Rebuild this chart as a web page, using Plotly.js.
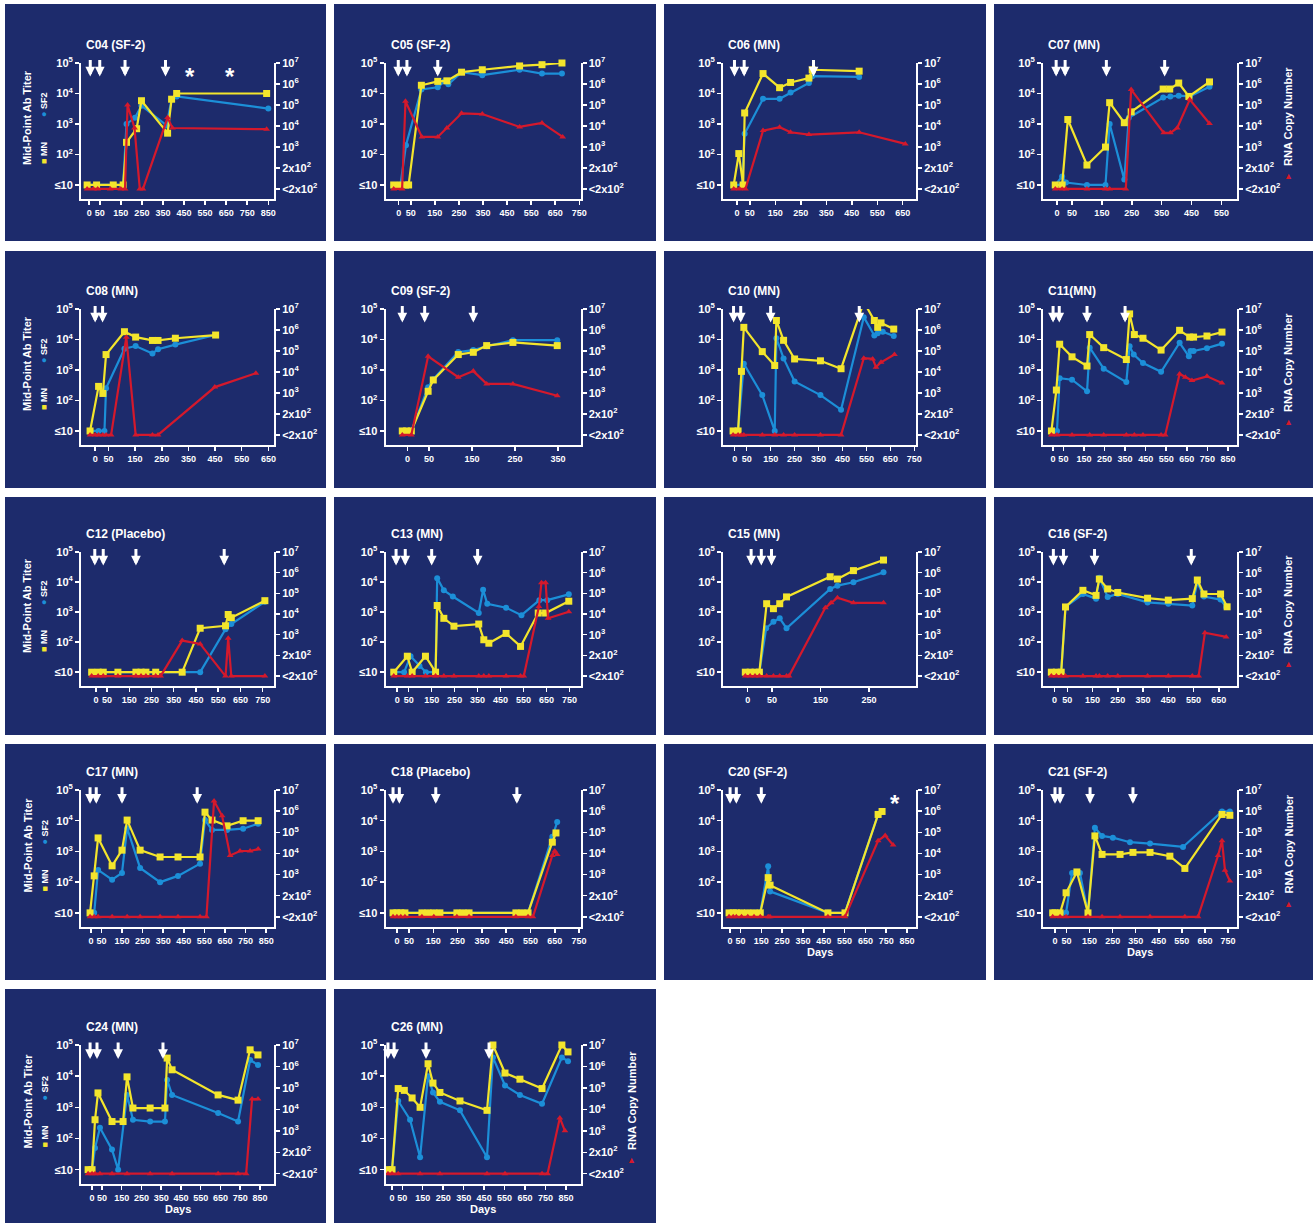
<!DOCTYPE html>
<html><head><meta charset="utf-8">
<script src="https://cdn.plot.ly/plotly-3.0.1.min.js"></script>
<style>html,body{margin:0;padding:0;background:#fff}#chart{width:1313px;height:1223px}</style>
</head><body><div id="chart"></div>
<script>
// ---------------- DATA (days, titer) / (days, RNA copies on the RNA axis) ----------------
// Titers at "≤10" are stored as 10; RNA "<2x10²" stored as 10 (bottom code of RNA axis), "2x10²" as 100.
const C04_MN=[[-10,10],[35,10],[114,10],[161,10],[177,250],[225,700],[248,5800],[372,500],[391,6500],[415,10000],[842,10000]];
const C04_SF2=[[-10,10],[35,10],[114,10],[161,10],[177,1000],[217,1600],[248,4000],[367,900],[391,6500],[415,8000],[850,3200]];
const C04_RNA=[[-10,10],[20,10],[40,10],[100,10],[150,10],[170,10],[182,100000],[215,8000],[240,10],[255,10],[372,25000],[395,8000],[842,7000]];
const C04_VACC=[5,50,170,362], C04_STAR=[478,668];

const C05_MN=[[-21,10],[7,10],[28,10],[41,10],[94,18600],[162,25000],[200,26000],[261,50000],[347,60000],[502,80000],[595,88000],[678,100000]];
const C05_SF2=[[-21,10],[7,10],[30,200],[94,13500],[162,16000],[190,25000],[206,20000],[261,50000],[347,40000],[502,60000],[595,45000],[678,45000]];
const C05_RNA=[[-21,10],[14,10],[28,150000],[96,3000],[162,3000],[200,8000],[261,40000],[347,37000],[502,9000],[595,14000],[681,3000]];
const C05_VACC=[-2,34,162];

const C06_MN=[[-13,10],[7,107],[24,10],[30,2300],[102,45000],[167,15500],[210,23000],[282,32000],[295,60000],[479,54000]];
const C06_SF2=[[-13,10],[20,10],[30,480],[102,6700],[167,6700],[210,10700],[282,22000],[295,37000],[479,35000]];
const C06_RNA=[[-13,10],[10,10],[33,10],[102,6000],[167,8700],[210,5000],[282,3900],[479,5000],[660,1400]];
const C06_VACC=[-10,28,300];

const C07_MN=[[-6,10],[17,10],[36,1400],[100,45],[162,175],[176,5000],[225,1100],[248,2500],[355,14000],[377,14000],[407,22000],[441,8000],[510,24000]];
const C07_SF2=[[-6,10],[17,19],[30,12],[100,10],[162,10],[176,1000],[225,15],[240,1600],[355,7400],[379,8000],[407,8500],[444,8000],[510,16500]];
const C07_RNA=[[-6,10],[17,10],[30,10],[100,10],[162,10],[176,10],[230,10],[248,540000],[357,4700],[379,4700],[402,8000],[444,180000],[510,13000]];
const C07_VACC=[-3,27,165,360];

const C08_MN=[[-19,10],[13,290],[29,170],[41,3200],[110,18000],[152,12000],[215,9300],[236,9300],[301,11000],[452,14000]];
const C08_SF2=[[-19,10],[13,10],[35,10],[41,250],[110,5000],[152,6100],[215,3500],[236,4800],[301,6800],[452,14000]];
const C08_RNA=[[-19,10],[0,10],[13,10],[29,10],[41,10],[60,10],[117,450000],[152,10],[215,10],[236,10],[449,1900],[603,8700]];
const C08_VACC=[0,28];

const C09_MN=[[-12,10],[-2,10],[9,10],[48,200],[60,470],[118,3200],[153,3800],[184,6300],[245,8000],[348,6300]];
const C09_SF2=[[-12,10],[-2,10],[9,10],[48,270],[60,500],[118,3900],[153,4500],[184,6000],[245,9500],[348,9500]];
const C09_RNA=[[-12,10],[9,10],[48,56000],[118,5600],[153,11000],[184,2700],[245,2700],[348,740]];
const C09_VACC=[-12,40,153];

const C10_MN=[[-7,10],[14,10],[28,900],[38,25000],[115,4000],[167,1400],[174,42000],[204,9400],[250,2300],[358,2000],[444,1100],[539,170000],[583,42000],[597,25000],[611,35000],[664,22000]];
const C10_SF2=[[-7,10],[14,10],[38,1600],[115,150],[167,10],[174,11000],[204,2400],[250,420],[358,150],[444,50],[539,54000],[583,13500],[597,16000],[618,18000],[664,13000]];
const C10_RNA=[[-7,10],[14,10],[28,10],[38,10],[115,10],[167,10],[204,10],[250,10],[358,10],[444,10],[539,45000],[576,42000],[590,17000],[611,29000],[667,68000]];
const C10_VACC=[-5,25,150,520];

const C11_MN=[[-8,10],[16,220],[32,7000],[92,2700],[165,1350],[178,14500],[246,5400],[356,2200],[372,69000],[395,14500],[437,11000],[525,4500],[615,20000],[664,12000],[683,12000],[748,13000],[821,17500]];
const C11_SF2=[[-8,10],[19,10],[32,540],[92,480],[165,200],[178,5400],[246,1100],[356,400],[372,6000],[392,3200],[437,1700],[525,870],[615,7800],[660,2800],[668,4200],[683,4200],[748,5200],[821,7300]];
const C11_RNA=[[-8,10],[19,10],[92,10],[178,10],[246,10],[356,10],[395,10],[437,10],[525,10],[545,10],[615,8000],[643,5600],[675,3900],[748,6200],[821,3000]];
const C11_VACC=[0,30,165,350];

const C12_MN=[[-19,10],[10,10],[33,10],[99,10],[180,10],[203,10],[225,10],[269,10],[388,10],[469,290],[583,350],[595,830],[609,650],[760,2400]];
const C12_SF2=[[-19,10],[10,10],[33,10],[99,10],[180,10],[203,10],[225,10],[269,10],[388,10],[469,10],[583,270],[609,400],[760,2200]];
const C12_RNA=[[-19,10],[10,10],[33,10],[99,10],[180,10],[203,10],[225,10],[269,10],[291,10],[388,520],[469,360],[583,10],[595,680],[609,10],[760,10]];
const C12_VACC=[-5,33,180,577];

const C13_MN=[[-15,10],[44,34],[65,10],[123,34],[167,10],[174,1660],[203,620],[247,340],[355,400],[377,120],[399,92],[474,195],[537,72],[614,930],[646,930],[747,2300]];
const C13_SF2=[[-15,10],[30,10],[58,34],[97,16],[125,10],[167,10],[174,13500],[203,5300],[242,3300],[355,930],[374,5500],[392,1900],[474,1400],[541,790],[619,2500],[653,2500],[747,3900]];
const C13_RNA=[[-15,10],[44,10],[65,10],[123,10],[167,10],[203,10],[247,10],[355,10],[377,10],[399,10],[474,10],[537,10],[551,10],[617,23000],[628,330000],[646,330000],[657,6300],[747,13000]];
const C13_VACC=[-5,35,150,350];

const C15_MN=[[-5,10],[5,10],[15,10],[24,10],[39,1900],[53,1300],[66,1900],[80,3200],[170,15000],[185,12600],[218,24000],[280,54000]];
const C15_SF2=[[-5,10],[5,10],[15,10],[24,10],[38,290],[53,480],[66,620],[80,290],[170,5900],[185,7600],[218,9800],[280,21000]];
const C15_RNA=[[-5,10],[5,10],[15,10],[24,10],[39,10],[53,10],[66,10],[80,10],[85,10],[160,20000],[172,35000],[185,62000],[218,35000],[280,35000]];
const C15_VACC=[7,28,49];

const C16_MN=[[-13,10],[7,10],[26,10],[43,1480],[112,5300],[164,3600],[177,12600],[210,5900],[250,4500],[368,2900],[450,2500],[545,2800],[565,11700],[591,4000],[657,4000],[683,1500]];
const C16_SF2=[[-13,10],[7,10],[26,10],[43,1480],[112,4000],[164,2800],[177,14000],[210,3200],[250,4000],[368,2100],[450,1900],[545,1650],[565,9800],[591,3300],[657,2600],[679,1480]];
const C16_RNA=[[-13,10],[7,10],[26,10],[43,10],[112,10],[164,10],[177,10],[210,10],[250,10],[368,10],[450,10],[545,10],[570,10],[595,1250],[679,780]];
const C16_VACC=[-5,35,158,541];

const C17_MN=[[-5,10],[15,160],[34,2750],[102,340],[150,1100],[175,10500],[238,1100],[335,660],[422,660],[529,660],[553,19000],[587,10500],[660,6800],[738,10000],[811,10000]];
const C17_SF2=[[-5,10],[15,10],[34,250],[102,120],[150,200],[175,5700],[238,290],[335,100],[422,160],[529,400],[553,10500],[587,5000],[660,5000],[738,5500],[811,8000]];
const C17_RNA=[[-5,10],[15,10],[34,10],[102,10],[175,10],[238,10],[335,10],[422,10],[529,10],[560,10],[597,3000000],[636,600000],[675,8000],[723,13000],[772,13000],[811,16000]];
const C17_VACC=[-5,25,150,515];

const C18_MN=[[-16,10],[0,10],[16,10],[33,10],[103,10],[128,10],[152,10],[177,10],[247,10],[272,10],[297,10],[490,10],[515,10],[540,10],[640,2000],[655,4000]];
const C18_SF2=[[-16,10],[0,10],[16,10],[33,10],[103,10],[128,10],[152,10],[177,10],[247,10],[272,10],[297,10],[490,10],[515,10],[540,10],[640,3000],[660,9000]];
const C18_RNA=[[-16,10],[0,10],[16,10],[33,10],[103,10],[152,10],[247,10],[297,10],[490,10],[540,10],[560,10],[640,8000],[650,13000],[660,9000]];
const C18_VACC=[-16,10,160,494];

const C20_MN=[[-5,10],[15,10],[30,10],[55,10],[85,10],[115,10],[145,10],[183,140],[192,80],[470,10],[552,10],[711,16000],[730,20000]];
const C20_SF2=[[-5,10],[15,10],[30,10],[55,10],[85,10],[115,10],[145,10],[183,330],[192,50],[470,10],[552,10],[711,16000],[730,20000]];
const C20_RNA=[[-5,10],[15,10],[30,10],[55,10],[85,10],[115,10],[145,10],[183,10],[192,10],[470,10],[552,10],[711,40000],[745,70000],[783,25000]];
const C20_VACC=[0,30,150], C20_STAR=[793];

const C21_MN=[[-10,10],[0,10],[22,10],[48,45],[95,215],[143,10],[173,3200],[204,800],[282,800],[338,930],[412,930],[498,700],[563,280],[724,16000],[758,15000]];
const C21_SF2=[[-10,10],[0,10],[22,10],[48,10],[74,200],[108,200],[143,10],[173,5900],[204,3200],[251,2800],[325,2000],[412,1800],[555,1400],[724,20000],[758,20000]];
const C21_RNA=[[-10,10],[22,10],[48,10],[143,10],[204,10],[282,10],[412,10],[563,10],[620,10],[707,8000],[724,40000],[737,1600],[758,500]];
const C21_VACC=[0,22,152,338];

const C24_MN=[[-20,10],[0,10],[15,400],[30,2900],[101,350],[157,350],[177,9500],[207,950],[294,950],[369,950],[380,38000],[405,16000],[638,2500],[739,1700],[800,70000],[840,48000]];
const C24_SF2=[[-20,10],[0,10],[15,50],[40,220],[101,44],[132,10],[177,2500],[207,400],[294,350],[369,350],[380,7600],[405,2500],[638,660],[739,350],[800,33000],[840,23000]];
const C24_RNA=[[-20,10],[0,10],[15,10],[40,10],[101,10],[177,10],[294,10],[405,10],[638,10],[739,10],[780,10],[810,30000],[840,30000]];
const C24_VACC=[-10,25,132,359];

const C26_MN=[[-20,10],[0,10],[30,4000],[60,3500],[98,2000],[137,1000],[176,25000],[200,6000],[234,3000],[332,1600],[464,800],[493,100000],[552,12600],[625,8000],[733,4000],[830,100000],[860,60000]];
const C26_SF2=[[-20,10],[0,10],[30,1600],[88,400],[137,25],[176,10000],[200,3000],[234,1500],[332,800],[464,25],[493,40000],[552,5000],[625,2500],[733,1300],[830,40000],[860,30000]];
const C26_RNA=[[-20,10],[0,10],[30,10],[137,10],[234,10],[464,10],[552,10],[733,10],[760,10],[820,4000],[845,1000]];
const C26_VACC=[-20,10,166,474];

// tick labels
const XT350=[0,50,150,250,350];
const XT550=[0,50,150,250,350,450,550];
const XT650=[0,50,150,250,350,450,550,650];
const XT750=[0,50,150,250,350,450,550,650,750];
const XT850=[0,50,150,250,350,450,550,650,750,850];
const LEFT_TICK_VALS=[10,100,1000,10000,100000];
const LEFT_TICK_TEXT=['≤10','10<sup>2</sup>','10<sup>3</sup>','10<sup>4</sup>','10<sup>5</sup>'];
const RIGHT_TICK_VALS=[10,100,1e3,1e4,1e5,1e6,1e7];
const RIGHT_TICK_TEXT=['<2x10<sup>2</sup>','2x10<sup>2</sup>','10<sup>3</sup>','10<sup>4</sup>','10<sup>5</sup>','10<sup>6</sup>','10<sup>7</sup>'];

// ---------------- LAYOUT ----------------
const W=1313,H=1223;
const BG='#1d2b6c', BLUE='#1c8fd8', YELLOW='#f3e52c', RED='#d4192c', WHITE='#ffffff';
const FONT='Liberation Sans, Arial, Helvetica, sans-serif';
const COLX=[5,334,664,994], COLW=[321,322,322,319];
const ROWY=[4,251,497,744,989], ROWH=[237,237,238,236,234];
const PLOTX=[[76,269],[51.5,246.5],[59,252],[49,243]];
const PLOTY=[[59,195],[58,194],[55,189],[46,183],[56,195]];

const panels=[
 {t:'C04 (SF-2)',mn:C04_MN,sf:C04_SF2,rna:C04_RNA,vac:C04_VACC,star:C04_STAR,xr:[-39,877],xt:XT850,r:0,c:0,lt:1},
 {t:'C05 (SF-2)',mn:C05_MN,sf:C05_SF2,rna:C05_RNA,vac:C05_VACC,xr:[-55,755],xt:XT750,r:0,c:1},
 {t:'C06 (MN)',mn:C06_MN,sf:C06_SF2,rna:C06_RNA,vac:C06_VACC,xr:[-55,702],xt:XT650,r:0,c:2},
 {t:'C07 (MN)',mn:C07_MN,sf:C07_SF2,rna:C07_RNA,vac:C07_VACC,xr:[-47,602],xt:XT550,r:0,c:3,rt:1},
 {t:'C08 (MN)',mn:C08_MN,sf:C08_SF2,rna:C08_RNA,vac:C08_VACC,xr:[-53,671],xt:XT650,r:1,c:0,lt:1},
 {t:'C09 (SF-2)',mn:C09_MN,sf:C09_SF2,rna:C09_RNA,vac:C09_VACC,xr:[-51,402],xt:XT350,r:1,c:1},
 {t:'C10 (MN)',mn:C10_MN,sf:C10_SF2,rna:C10_RNA,vac:C10_VACC,xr:[-49,757],xt:XT750,r:1,c:2},
 {t:'C11(MN)',mn:C11_MN,sf:C11_SF2,rna:C11_RNA,vac:C11_VACC,xr:[-49,894],xt:XT850,r:1,c:3,rt:1},
 {t:'C12 (Placebo)',mn:C12_MN,sf:C12_SF2,rna:C12_RNA,vac:C12_VACC,xr:[-67,801],xt:XT750,r:2,c:0,lt:1},
 {t:'C13 (MN)',mn:C13_MN,sf:C13_SF2,rna:C13_RNA,vac:C13_VACC,xr:[-51,798],xt:XT750,r:2,c:1},
 {t:'C15 (MN)',mn:C15_MN,sf:C15_SF2,rna:C15_RNA,vac:C15_VACC,xr:[-51,347],xt:XT350,r:2,c:2},
 {t:'C16 (SF-2)',mn:C16_MN,sf:C16_SF2,rna:C16_RNA,vac:C16_VACC,xr:[-46,722],xt:XT650,r:2,c:3,rt:1},
 {t:'C17 (MN)',mn:C17_MN,sf:C17_SF2,rna:C17_RNA,vac:C17_VACC,xr:[-49,888],xt:XT850,r:3,c:0,lt:1},
 {t:'C18 (Placebo)',mn:C18_MN,sf:C18_SF2,rna:C18_RNA,vac:C18_VACC,xr:[-47,756],xt:XT750,r:3,c:1},
 {t:'C20 (SF-2)',mn:C20_MN,sf:C20_SF2,rna:C20_RNA,vac:C20_VACC,star:C20_STAR,xr:[-34,893],xt:XT850,r:3,c:2,days:1},
 {t:'C21 (SF-2)',mn:C21_MN,sf:C21_SF2,rna:C21_RNA,vac:C21_VACC,xr:[-52,789],xt:XT750,r:3,c:3,rt:1,days:1},
 {t:'C24 (MN)',mn:C24_MN,sf:C24_SF2,rna:C24_RNA,vac:C24_VACC,xr:[-56,921],xt:XT850,r:4,c:0,lt:1,days:1},
 {t:'C26 (MN)',mn:C26_MN,sf:C26_SF2,rna:C26_RNA,vac:C26_VACC,xr:[-32,921],xt:XT850,r:4,c:1,rt:1,days:1}
];

const fx=px=>px/W, fy=py=>1-py/H;
const traces=[], shapes=[], annotations=[];
const layout={width:W,height:H,margin:{l:0,r:0,t:0,b:0},paper_bgcolor:'#ffffff',plot_bgcolor:'rgba(0,0,0,0)',showlegend:false,font:{family:FONT,color:WHITE}};
const tf={family:FONT,size:11,color:WHITE,weight:700};
const ann=(o)=>annotations.push(Object.assign({xanchor:'center',yanchor:'middle',showarrow:false},o));

panels.forEach((p,i)=>{
  const xa='x'+(i+1), yl='y'+(2*i+1), yr='y'+(2*i+2);
  const X0=COLX[p.c], Y0=ROWY[p.r];
  const L=X0+PLOTX[p.c][0], R=X0+PLOTX[p.c][1], T=Y0+PLOTY[p.r][0], B=Y0+PLOTY[p.r][1];
  const MID=(T+B)/2;
  shapes.push({type:'rect',xref:'paper',yref:'paper',x0:fx(X0),x1:fx(X0+COLW[p.c]),y0:fy(Y0+ROWH[p.r]),y1:fy(Y0),fillcolor:BG,line:{width:0},layer:'below'});
  layout['xaxis'+(i+1)]={domain:[fx(L),fx(R)],anchor:yl,range:p.xr,tickvals:p.xt,ticktext:p.xt.map(String),tickangle:0,ticks:'outside',ticklen:4,tickwidth:1.5,tickcolor:WHITE,showline:true,linecolor:WHITE,linewidth:2,showgrid:false,zeroline:false,tickfont:{...tf,size:9},fixedrange:true};
  layout['yaxis'+(2*i+1)]={domain:[fy(B),fy(T)],anchor:xa,type:'log',range:[0.54,5],tickvals:LEFT_TICK_VALS,ticktext:LEFT_TICK_TEXT,ticks:'outside',ticklen:4,tickwidth:1.5,tickcolor:WHITE,showline:true,linecolor:WHITE,linewidth:2,showgrid:false,zeroline:false,tickfont:tf};
  layout['yaxis'+(2*i+2)]={overlaying:yl,side:'right',anchor:xa,type:'log',range:[0.52,7],tickvals:RIGHT_TICK_VALS,ticktext:RIGHT_TICK_TEXT,ticks:'outside',ticklen:4,tickwidth:1.5,tickcolor:WHITE,showline:true,linecolor:WHITE,linewidth:2,showgrid:false,zeroline:false,tickfont:tf};
  traces.push({x:p.sf.map(d=>d[0]),y:p.sf.map(d=>d[1]),xaxis:xa,yaxis:yl,mode:'lines+markers',line:{color:BLUE,width:2.2},marker:{symbol:'circle',size:6,color:BLUE},cliponaxis:false,hoverinfo:'skip'});
  traces.push({x:p.mn.map(d=>d[0]),y:p.mn.map(d=>d[1]),xaxis:xa,yaxis:yl,mode:'lines+markers',line:{color:YELLOW,width:2.2},marker:{symbol:'square',size:7,color:YELLOW},cliponaxis:false,hoverinfo:'skip'});
  traces.push({x:p.rna.map(d=>d[0]),y:p.rna.map(d=>d[1]),xaxis:xa,yaxis:yr,mode:'lines+markers',line:{color:RED,width:2.2},marker:{symbol:'triangle-up',size:6,color:RED},cliponaxis:false,hoverinfo:'skip'});
  // title
  ann({text:'<b>'+p.t+'</b>',xref:'paper',yref:'paper',x:fx(L+3),y:fy(T-18),xanchor:'left',font:{family:FONT,size:12,color:WHITE}});
  // vaccination arrows
  p.vac.forEach(d=>annotations.push({text:'',xref:xa,yref:yl+' domain',x:d,y:0.9,showarrow:true,arrowhead:2,arrowsize:0.65,arrowwidth:3,arrowcolor:WHITE,ax:0,ay:-18,standoff:0}));
  (p.star||[]).forEach(d=>ann({text:'<b>*</b>',xref:xa,yref:yl+' domain',x:d,y:0.9,font:{family:FONT,size:24,color:WHITE}}));
  if(p.lt){
    ann({text:'<b>Mid-Point Ab Titer</b>',xref:'paper',yref:'paper',x:fx(X0+22),y:fy(MID-13),textangle:-90,font:{family:FONT,size:11,color:WHITE}});
    ann({text:'<span style="color:'+YELLOW+'">■</span> <b>MN</b>',xref:'paper',yref:'paper',x:fx(X0+39),y:fy(MID+22),textangle:-90,font:{family:FONT,size:9,color:WHITE}});
    ann({text:'<span style="color:'+BLUE+'">●</span> <b>SF2</b>',xref:'paper',yref:'paper',x:fx(X0+39),y:fy(MID-26),textangle:-90,font:{family:FONT,size:9,color:WHITE}});
  }
  if(p.rt){
    ann({text:'<b>RNA Copy Number</b>',xref:'paper',yref:'paper',x:fx(R+51),y:fy(MID-14),textangle:-90,font:{family:FONT,size:11,color:WHITE}});
    ann({text:'▲',xref:'paper',yref:'paper',x:fx(R+51),y:fy(MID+45),font:{family:FONT,size:9,color:RED}});
  }
  if(p.days){
    ann({text:'<b>Days</b>',xref:'paper',yref:'paper',x:fx((L+R)/2),y:fy(B+25),font:{family:FONT,size:11,color:WHITE}});
  }
});
layout.shapes=shapes; layout.annotations=annotations;
Plotly.newPlot('chart',traces,layout,{staticPlot:true,displayModeBar:false});
</script></body></html>
